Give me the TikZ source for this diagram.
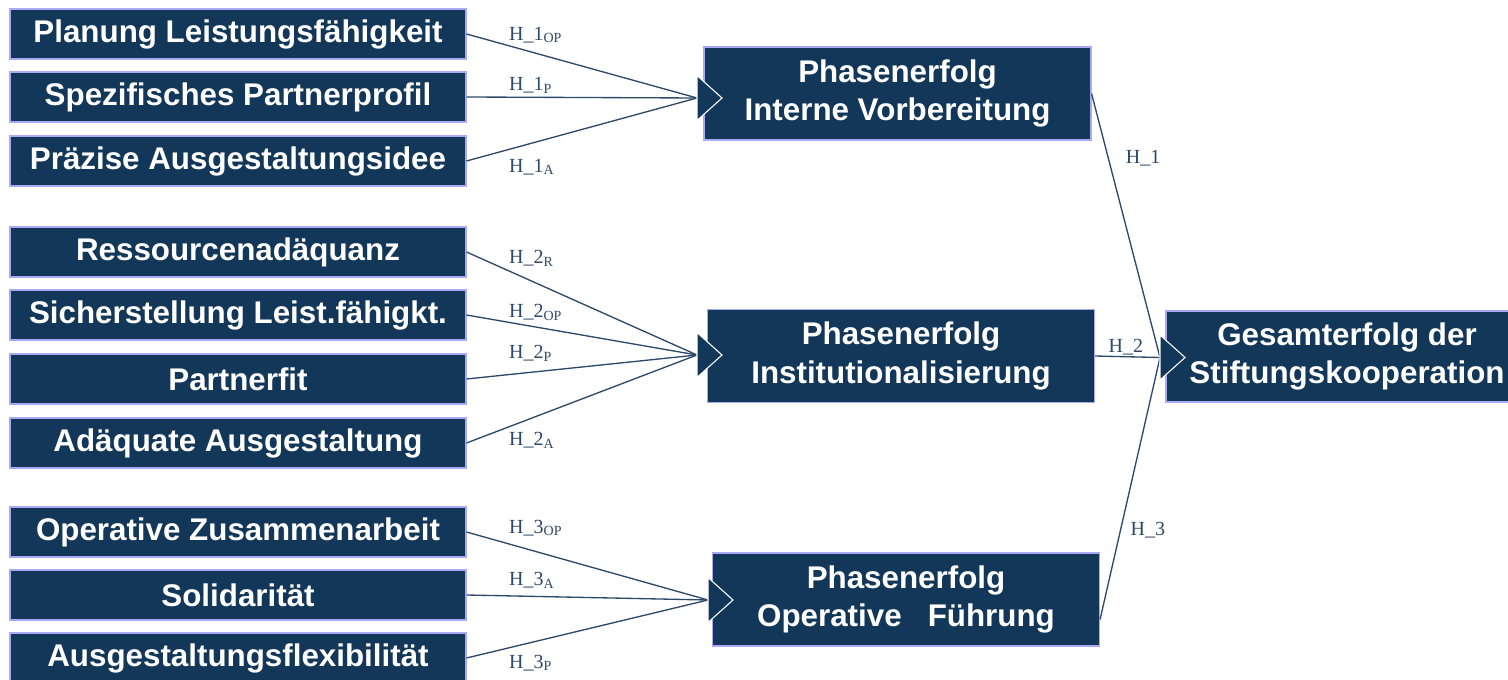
\documentclass[tikz,border=0pt]{standalone}
\usepackage{fontspec}
\newfontfamily\boxfont{Liberation Sans}
\newfontfamily\hfont{Liberation Serif}
\definecolor{stiftblau}{HTML}{133759}
\definecolor{rahmen}{HTML}{A9A9F5}
\definecolor{linie}{HTML}{2D496A}
\begin{document}
\begin{tikzpicture}[x=0.75pt, y=-0.75pt,
faktor node/.style={rectangle,fill=stiftblau,draw=rahmen,line width=0.8pt,text=white,font=\boxfont\bfseries\fontsize{23.5pt}{28.7pt}\selectfont,minimum width=342pt,minimum height=37.5pt,inner sep=0pt},
phase node/.style={faktor node,align=center,minimum width=290.25pt,minimum height=69.75pt},
ziel node/.style={phase node,minimum width=271.5pt,minimum height=68.25pt},
hlabel/.style={font=\hfont\fontsize{15pt}{17pt}\selectfont,text=linie,inner sep=0pt,anchor=west},
spitze/.style={fill=stiftblau,draw=white,line width=0.8pt,line join=miter}]
\useasboundingbox (0,0) rectangle (1508,680);
\begin{scope}
\node[faktor node] (f1) at (238,34) {Planung Leistungsfähigkeit};
\node[faktor node] (f2) at (238,97) {Spezifisches Partnerprofil};
\node[faktor node] (f3) at (238,161) {Präzise Ausgestaltungsidee};
\node[faktor node] (f4) at (238,252) {Ressourcenadäquanz};
\node[faktor node] (f5) at (238,315) {Sicherstellung Leist.fähigkt.};
\node[faktor node] (f6) at (238,379) {Partnerfit};
\node[faktor node] (f7) at (238,443) {Adäquate Ausgestaltung};
\node[faktor node] (f8) at (238,532) {Operative Zusammenarbeit};
\node[faktor node] (f9) at (238,595) {Solidarität};
\node[faktor node] (f10) at (238,658) {Ausgestaltungsflexibilität};
\node[phase node] (p1) at (897.5,93.5) {Phasenerfolg\\Interne Vorbereitung};
\node[phase node] (p2) at (901,356) {Phasenerfolg\\Institutionalisierung};
\node[phase node] (p3) at (906,599.5) {Phasenerfolg\\Operative~~~Führung};
\node[ziel node] (g) at (1347,356.5) {Gesamterfolg der\\Stiftungskooperation};
\end{scope}
\coordinate (p1in) at (697,98);
\coordinate (p2in) at (697,355);
\coordinate (p3in) at (708,600);
\coordinate (gin) at (1160,357.5);
\begin{scope}[every edge/.style={draw=linie,line width=1pt}]
\draw (f1.east) edge node[hlabel,pos=.182,yshift=8pt] {H\_1\textsubscript{OP}} (p1in);
\draw (f2.east) edge node[hlabel,pos=.182,yshift=9pt] {H\_1\textsubscript{P}} (p1in);
\draw (f3.east) edge node[hlabel,pos=.182,yshift=-13pt] {H\_1\textsubscript{A}} (p1in);
\draw (f4.east) edge node[hlabel,pos=.182,yshift=9.5pt] {H\_2\textsubscript{R}} (p2in);
\draw (f5.east) edge node[hlabel,pos=.182,yshift=7.7pt] {H\_2\textsubscript{OP}} (p2in);
\draw (f6.east) edge node[hlabel,pos=.182,yshift=16.2pt] {H\_2\textsubscript{P}} (p2in);
\draw (f7.east) edge node[hlabel,pos=.182,yshift=-9.75pt] {H\_2\textsubscript{A}} (p2in);
\draw (f8.east) edge node[hlabel,pos=.174,yshift=11.9pt] {H\_3\textsubscript{OP}} (p3in);
\draw (f9.east) edge node[hlabel,pos=.174,yshift=11.9pt] {H\_3\textsubscript{A}} (p3in);
\draw (f10.east) edge node[hlabel,pos=.174,yshift=-11.25pt] {H\_3\textsubscript{P}} (p3in);
\draw (p1.east) edge node[hlabel,pos=.244,xshift=12.75pt] {H\_1} (gin);
\draw (p2.east) edge node[hlabel,pos=.2,yshift=6.75pt] {H\_2} (gin);
\draw ([yshift=-15pt]p3.east) edge node[hlabel,pos=.342,xshift=7pt] {H\_3} (gin);
\end{scope}
\filldraw[spitze] (p1in) -- ++(0,-22.5) -- ++(25,22.5) -- ++(-25,22.5) -- cycle;
\filldraw[spitze] (p2in) -- ++(0,-22.5) -- ++(25,22.5) -- ++(-25,22.5) -- cycle;
\filldraw[spitze] (p3in) -- ++(0,-22.5) -- ++(25,22.5) -- ++(-25,22.5) -- cycle;
\filldraw[spitze] (gin) -- ++(0,-22.5) -- ++(25,22.5) -- ++(-25,22.5) -- cycle;
\end{tikzpicture}
\end{document}
